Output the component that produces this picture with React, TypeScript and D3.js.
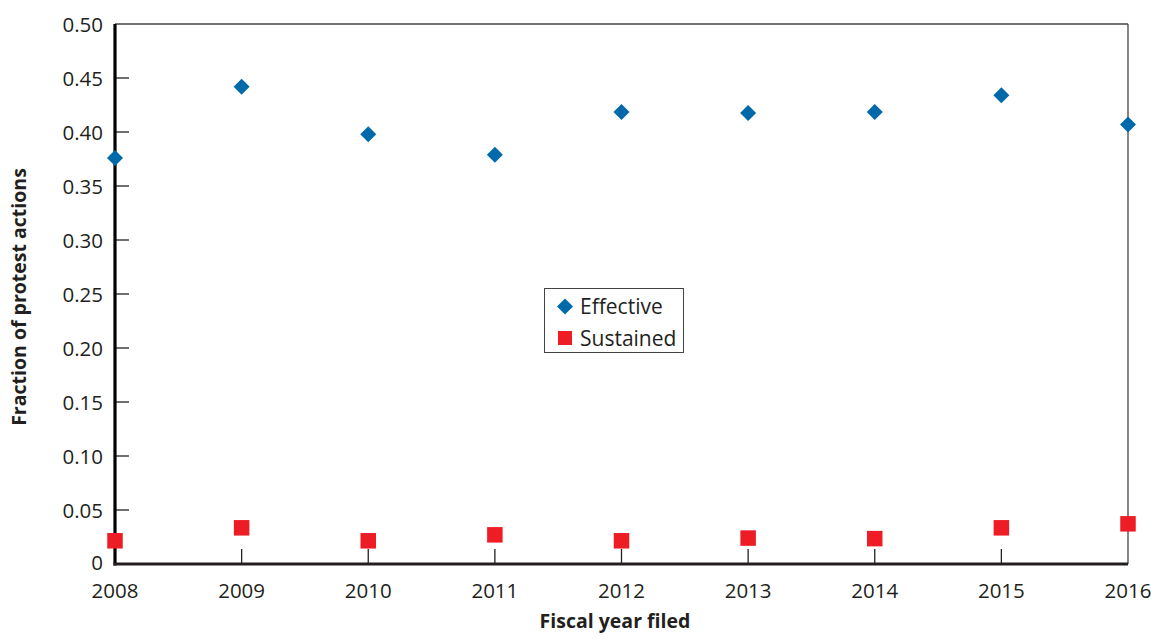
import React from "react";
import * as d3 from "d3";

const years = [2008, 2009, 2010, 2011, 2012, 2013, 2014, 2015, 2016];
const effective = [0.376, 0.442, 0.398, 0.379, 0.4185, 0.4175, 0.4185, 0.434, 0.407];
const sustained = [0.0215, 0.0335, 0.0215, 0.027, 0.0215, 0.024, 0.0235, 0.0335, 0.0372];
const yTicks = [0, 0.05, 0.1, 0.15, 0.2, 0.25, 0.3, 0.35, 0.4, 0.45, 0.5];

const W = 1151, H = 639;
const left = 115, right = 1128, top = 24, bottom = 564;
const font = "'Open Sans', 'Noto Sans', sans-serif";
const BLUE = "#0069aa";
const RED = "#ee1c25";

export default function App() {
  const x = d3.scaleLinear().domain([2008, 2016]).range([left, right]);
  const y = d3.scaleLinear().domain([0, 0.5]).range([bottom, top]);
  const dia = (cx: number, cy: number, r: number) =>
    `M${cx},${cy - r}L${cx + r},${cy}L${cx},${cy + r}L${cx - r},${cy}Z`;
  const sq = 15.5;
  return (
    <svg width={W} height={H} style={{ position: "absolute", left: 0, top: 0 }}>
      <rect width={W} height={H} fill="#fff" />
      {/* frame */}
      <line x1={left} x2={right} y1={top} y2={top} stroke="#444" strokeWidth={1.3} />
      <line x1={right} x2={right} y1={top} y2={bottom} stroke="#444" strokeWidth={1.3} />
      {/* y ticks */}
      {yTicks.map((t) => (
        <g key={t}>
          {t > 0 && t < 0.5 && (
            <line x1={left} x2={left + 14} y1={y(t)} y2={y(t)} stroke="#222" strokeWidth={1.3} />
          )}
          <text x={103} y={y(t) + (t === 0 ? 6 : 7.5)} textAnchor="end" fontFamily={font} fontSize={20.5} fill="#231f20">
            {t === 0 ? "0" : t.toFixed(2)}
          </text>
        </g>
      ))}
      {/* x ticks */}
      {years.map((yr) => (
        <g key={yr}>
          {yr > 2008 && yr < 2016 && (
            <line x1={x(yr)} x2={x(yr)} y1={bottom} y2={bottom - 15} stroke="#222" strokeWidth={1.3} />
          )}
          <text x={x(yr)} y={597.5} textAnchor="middle" fontFamily={font} fontSize={20.5} fill="#231f20">
            {yr}
          </text>
        </g>
      ))}
      {/* axes */}
      <line x1={left} x2={left} y1={top} y2={bottom + 1.5} stroke="#000" strokeWidth={3.2} />
      <line x1={left - 1.5} x2={right} y1={bottom} y2={bottom} stroke="#231f20" strokeWidth={3.2} />
      {/* data */}
      {years.map((yr, i) => (
        <path key={"e" + yr} d={dia(x(yr), y(effective[i]), 8)} fill={BLUE} />
      ))}
      {years.map((yr, i) => (
        <rect key={"s" + yr} x={x(yr) - sq / 2} y={y(sustained[i]) - sq / 2} width={sq} height={sq} fill={RED} />
      ))}
      {/* legend */}
      <rect x={544.5} y={288.5} width={139} height={64} fill="#fff" stroke="#444" strokeWidth={1} />
      <path d={dia(565, 306.5, 8)} fill={BLUE} />
      <text x={580} y={314} fontFamily={font} fontSize={21} fill="#231f20">Effective</text>
      <rect x={565 - 7} y={338 - 7} width={14} height={14} fill={RED} />
      <text x={580} y={345.5} fontFamily={font} fontSize={21} fill="#231f20">Sustained</text>
      {/* titles */}
      <text x={615} y={628} textAnchor="middle" fontFamily={font} fontSize={19.5} fontWeight="bold" fill="#231f20">
        Fiscal year filed
      </text>
      <text
        transform={`translate(26,297) rotate(-90)`}
        textAnchor="middle"
        fontFamily={font}
        fontSize={19.5}
        fontWeight="bold"
        fill="#231f20"
      >
        Fraction of protest actions
      </text>
    </svg>
  );
}
